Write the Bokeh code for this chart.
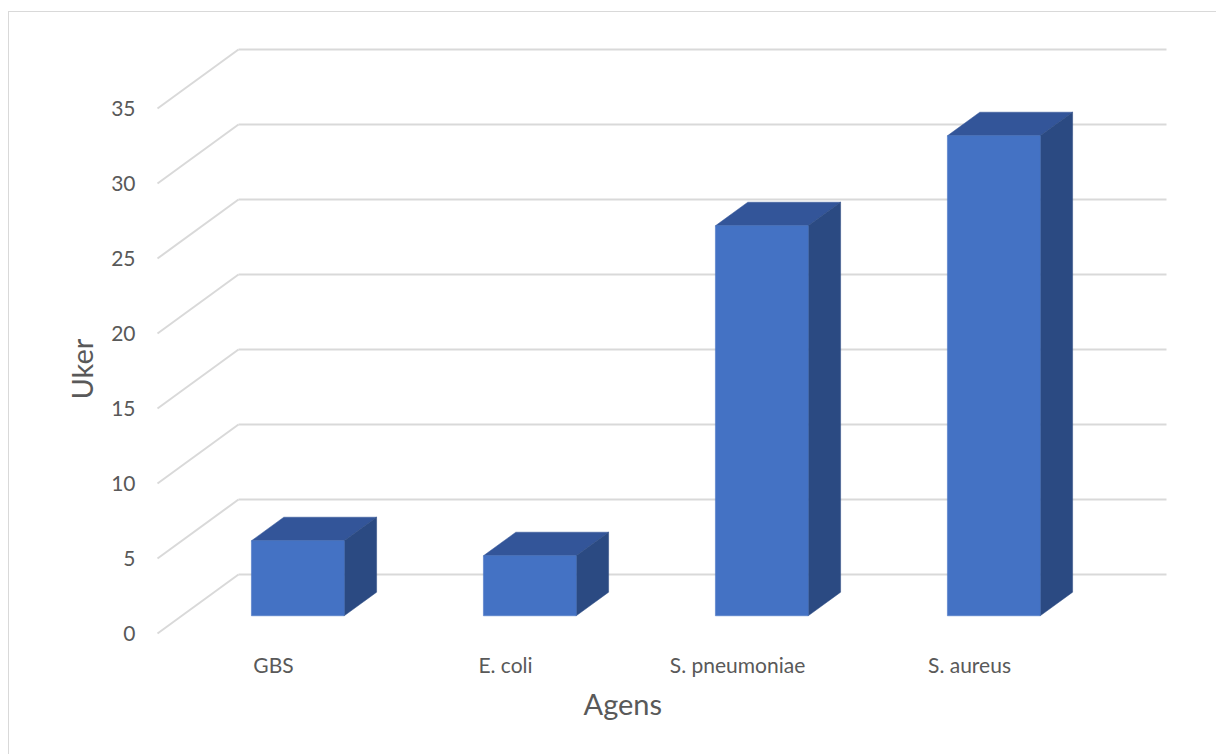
from bokeh.plotting import figure
from bokeh.models import FixedTicker, Range1d, Title
from bokeh.embed import file_html
from bokeh.resources import INLINE

# ---- data ----
categories = ["GBS", "E. coli", "S. pneumoniae", "S. aureus"]
weeks = [5, 4, 26, 32]
y_ticks = [0, 5, 10, 15, 20, 25, 30, 35]
x_title = "Agens"
y_title = "Uker"

# ---- oblique 3D projection (styling constants) ----
DX = 81 / 232      # depth shift along x, in category units
DY = 59 / 15       # depth shift along y, in value units
Z_FRONT, Z_BACK = 0.3, 0.7     # bar depth span (fraction of floor depth)
BAR_L, BAR_R = 0.3, 0.7        # bar span inside its category
N = len(categories)

GRID = "#d9d9d9"
TXT = "#595959"
FRONT = "#4472C4"
TOP = "#335599"
SIDE = "#2b4a82"
FONT = "Lato"

p = figure(width=1208, height=743, margin=(11, 0, 0, 8),
           x_range=Range1d(-6 / 232, 1014 / 232),
           y_range=Range1d(-8 / 15, 592 / 15),
           output_backend="svg", toolbar_location=None,
           min_border_left=142, min_border_right=46,
           min_border_top=29, min_border_bottom=114,
           background_fill_color="white", border_fill_color="white",
           styles={"border-top": "1px solid #d9d9d9", "border-left": "1px solid #d9d9d9"})
p.outline_line_color = None
p.xgrid.visible = False
p.ygrid.visible = False

# walls: back wall gridlines and side wall diagonals
p.multi_line(xs=[[DX, N + DX] for v in y_ticks],
             ys=[[v + DY, v + DY] for v in y_ticks],
             line_color=GRID, line_width=2)
p.multi_line(xs=[[0, DX] for v in y_ticks],
             ys=[[v, v + DY] for v in y_ticks],
             line_color=GRID, line_width=2)

# bars
fx0 = [i + BAR_L + Z_FRONT * DX for i in range(N)]
fx1 = [i + BAR_R + Z_FRONT * DX for i in range(N)]
fy0 = [Z_FRONT * DY for _ in range(N)]
fy1 = [v + Z_FRONT * DY for v in weeks]
ddx = (Z_BACK - Z_FRONT) * DX
ddy = (Z_BACK - Z_FRONT) * DY

p.patches(xs=[[a, b, b + ddx, a + ddx] for a, b in zip(fx0, fx1)],
          ys=[[t, t, t + ddy, t + ddy] for t in fy1],
          fill_color=TOP, line_color=TOP, line_width=0.5)
p.patches(xs=[[b, b + ddx, b + ddx, b] for b in fx1],
          ys=[[y0, y0 + ddy, t + ddy, t] for y0, t in zip(fy0, fy1)],
          fill_color=SIDE, line_color=SIDE, line_width=0.5)
p.quad(left=fx0, right=fx1, bottom=fy0, top=fy1,
       fill_color=FRONT, line_color=FRONT, line_width=0.5)

# axes
xa = p.xaxis[0]
xa.ticker = FixedTicker(ticks=[i + 0.5 for i in range(N)])
xa.major_label_overrides = {i + 0.5: c for i, c in enumerate(categories)}
ya = p.yaxis[0]
ya.ticker = FixedTicker(ticks=y_ticks)
for ax in (xa, ya):
    ax.axis_line_color = None
    ax.major_tick_line_color = None
    ax.minor_tick_line_color = None
    ax.major_tick_out = 0
    ax.major_tick_in = 0
    ax.major_label_text_font = FONT
    ax.major_label_text_font_size = "21px"
    ax.major_label_text_color = TXT
xa.major_label_standoff = 10
ya.major_label_standoff = 16

# axis titles (offset so they centre on the front plane, as in the original)
p.add_layout(Title(text=x_title, align="left", offset=432, standoff=8,
                   text_font=FONT, text_font_size="29px", text_font_style="normal",
                   text_color=TXT), "below")
p.add_layout(Title(text=y_title, align="left", offset=242, standoff=20,
                   text_font=FONT, text_font_size="29px", text_font_style="normal",
                   text_color=TXT), "left")

open("out.html", "w").write(file_html(p, INLINE))
